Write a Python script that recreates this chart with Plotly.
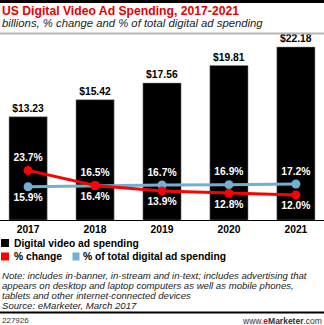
import plotly.graph_objects as go

years = ["2017", "2018", "2019", "2020", "2021"]
spending = [13.23, 15.42, 17.56, 19.81, 22.18]
pct_change = [23.7, 16.5, 13.9, 12.8, 12.0]
pct_total = [15.9, 16.4, 16.7, 16.9, 17.2]
spend_labels = ["$13.23", "$15.42", "$17.56", "$19.81", "$22.18"]
change_pos = ["top center", "top center", "bottom center", "bottom center", "bottom center"]
total_pos = ["bottom center", "bottom center", "top center", "top center", "top center"]

W, H = 324, 325
ML, MR, MT, MB = 0, 0, 40, 105
PH = H - MT - MB

def px(x):
    return x / W

def py(y):
    return (H - MB - y) / PH

RED = "#ff0000"
BLUE = "#72b0d3"
FONT = "Liberation Sans"

fig = go.Figure()
fig.add_trace(go.Bar(
    x=years, y=spending, width=0.57,
    marker=dict(color="#000000", line=dict(color="#888888", width=0.5)),
    text=spend_labels, textposition="outside", cliponaxis=False,
    textfont=dict(family=FONT, size=10.3, color="#000000", weight="bold"),
    name="Digital video ad spending", showlegend=False, hoverinfo="skip",
))
fig.add_trace(go.Scatter(
    x=years, y=pct_total, yaxis="y2", mode="lines+markers+text",
    line=dict(color=BLUE, width=3), marker=dict(color=BLUE, size=9),
    text=[f"{v:.1f}%" for v in pct_total], textposition=total_pos,
    textfont=dict(family=FONT, size=10.3, color="#ffffff", weight="bold"),
    name="% of total digital ad spending", showlegend=False, cliponaxis=False,
))
fig.add_trace(go.Scatter(
    x=years, y=pct_change, yaxis="y2", mode="lines+markers+text",
    line=dict(color=RED, width=3), marker=dict(color=RED, size=9),
    text=[f"{v:.1f}%" for v in pct_change], textposition=change_pos,
    textfont=dict(family=FONT, size=10.3, color="#ffffff", weight="bold"),
    name="% change", showlegend=False, cliponaxis=False,
))

shapes = [
    dict(type="line", xref="paper", yref="paper", x0=0, x1=1, y0=py(1.5), y1=py(1.5),
         line=dict(color="#000000", width=3)),
    dict(type="line", xref="paper", yref="paper", x0=0, x1=1, y0=py(33.5), y1=py(33.5),
         line=dict(color="#b4b4b4", width=2)),
    dict(type="line", xref="paper", yref="paper", x0=0, x1=1, y0=py(312.5), y1=py(312.5),
         line=dict(color="#000000", width=2)),
    dict(type="rect", xref="paper", yref="paper", x0=px(1), x1=px(9), y0=py(247), y1=py(239),
         fillcolor="#000000", line=dict(width=0)),
    dict(type="rect", xref="paper", yref="paper", x0=px(1), x1=px(9), y0=py(260.5), y1=py(252.5),
         fillcolor=RED, line=dict(width=0)),
    dict(type="rect", xref="paper", yref="paper", x0=px(72.5), x1=px(79.5), y0=py(260.5), y1=py(252.5),
         fillcolor=BLUE, line=dict(width=0)),
]

def ann(text, x, y, size, color="#000000", xanchor="left", bold=False, italic=False):
    return dict(text=text, xref="paper", yref="paper", x=px(x), y=py(y),
                xanchor=xanchor, yanchor="middle", showarrow=False,
                font=dict(family=FONT, size=size, color=color,
                          weight="bold" if bold else "normal",
                          style="italic" if italic else "normal"))

annotations = [
    ann("US Digital Video Ad Spending, 2017-2021", 0, 11, 12.2, color="#e60000", bold=True),
    ann("billions, % change and % of total digital ad spending", 0, 23, 11.3, color="#222222", italic=True),
    ann("Digital video ad spending", 11.5, 243, 10.3, bold=True),
    ann("% change", 11.5, 256.5, 10.3, bold=True),
    ann("% of total digital ad spending", 81, 256.5, 10.3, bold=True),
    ann("Note: includes in-banner, in-stream and in-text; includes advertising that", 0, 275.7, 9.6, color="#222222", italic=True),
    ann("appears on desktop and laptop computers as well as mobile phones,", 0, 285.7, 9.6, color="#222222", italic=True),
    ann("tablets and other internet-connected devices", 0, 295.7, 9.6, color="#222222", italic=True),
    ann("Source: eMarketer, March 2017", 0, 305.7, 9.6, color="#222222", italic=True),
    ann("227926", 0, 320.5, 8, color="#333333"),
    ann("www.<b><span style='color:#e60000'>e</span>Marketer</b>.com", 324, 320.5, 8.5, color="#333333", xanchor="right"),
]

fig.update_layout(
    width=W, height=H,
    margin=dict(l=ML, r=MR, t=MT, b=MB, pad=0),
    paper_bgcolor="#ffffff", plot_bgcolor="#ffffff",
    showlegend=False,
    xaxis=dict(range=[-0.42, 4.42], type="category", showgrid=False, zeroline=False,
               showline=True, linecolor="#000000", linewidth=1, ticks="",
               tickfont=dict(family=FONT, size=10.3, color="#000000", weight="bold"),
               fixedrange=True),
    yaxis=dict(range=[0, 23.08], visible=False, fixedrange=True),
    yaxis2=dict(range=[0, 86], overlaying="y", visible=False, fixedrange=True),
    shapes=shapes, annotations=annotations,
)

fig.write_html("out.html")
